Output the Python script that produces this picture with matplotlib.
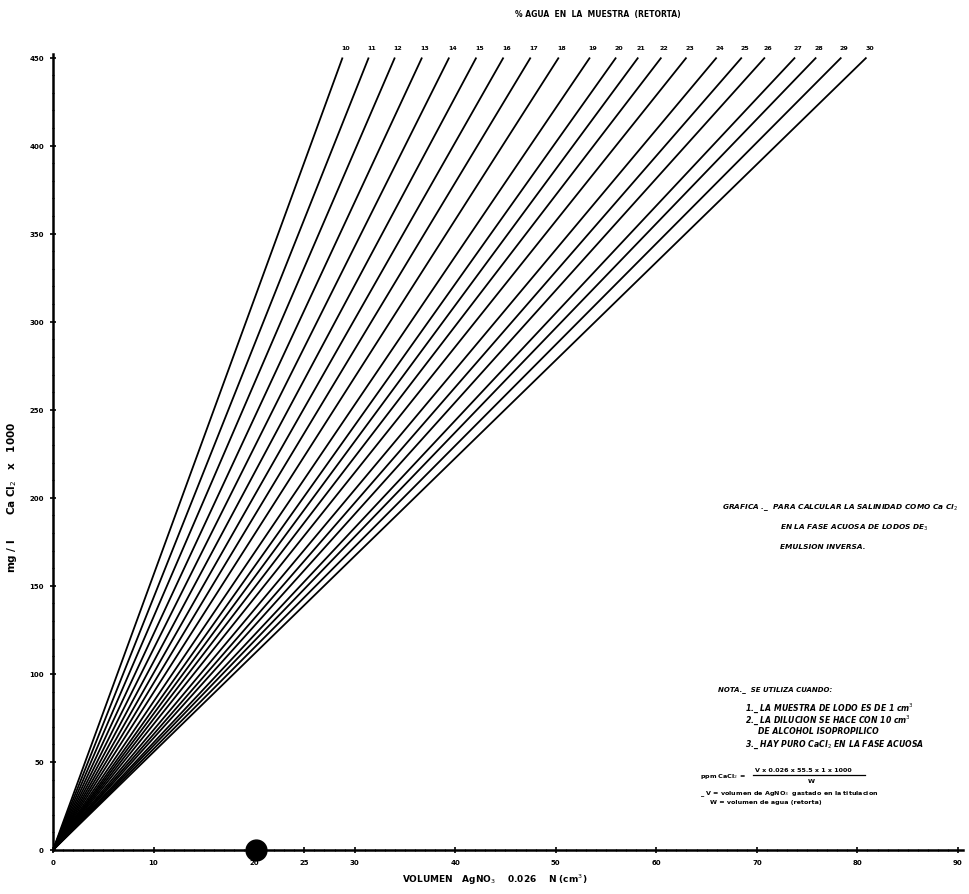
import numpy as np
import matplotlib.pyplot as plt
from matplotlib.ticker import MultipleLocator

# % agua en la muestra (retorta) -> una recta por cada valor
PCT_AGUA = [10, 11, 12, 13, 14, 15, 16, 17, 18, 19, 20,
            21, 22, 23, 24, 25, 26, 27, 28, 29, 30]
VOL_TOPE = [28.8, 31.4, 34.0, 36.7, 39.4, 42.1, 44.8, 47.5, 50.3, 53.4, 56.0,
            58.2, 60.5, 63.0, 66.0, 68.5, 70.8, 73.8, 75.9, 78.4, 80.9]
SAL_TOPE = 450

X_TICKS = [0, 10, 20, 25, 30, 40, 50, 60, 70, 80, 90]
Y_TICKS = [0, 50, 100, 150, 200, 250, 300, 350, 400, 450]
PUNTO = (20.2, 0)

fig = plt.figure(figsize=(9.7, 8.95), dpi=100)
ax = fig.add_axes([53 / 970, 1 - 851 / 895, 910 / 970, 796 / 895])

for pct, v in zip(PCT_AGUA, VOL_TOPE):
    ax.plot([0, v], [0, SAL_TOPE], color='black', lw=1.3, solid_capstyle='butt')
    ax.text(v + 0.3, SAL_TOPE + 5.5, str(pct), fontsize=4.5, fontweight='bold',
            ha='center', va='center')

ax.plot(*PUNTO, 'o', color='black', markersize=15, clip_on=False, zorder=5)

ax.set_xlim(0, 90.5)
ax.set_ylim(0, 452)
ax.set_xticks(X_TICKS)
ax.set_yticks(Y_TICKS)
ax.xaxis.set_minor_locator(MultipleLocator(1))
ax.yaxis.set_minor_locator(MultipleLocator(10))
ax.tick_params(which='major', direction='inout', length=5, width=1.2,
               labelsize=5, pad=4)
ax.tick_params(which='minor', direction='inout', length=2, width=0.8)
for lab in ax.get_xticklabels() + ax.get_yticklabels():
    lab.set_fontweight('bold')

ax.spines['top'].set_visible(False)
ax.spines['right'].set_visible(False)
ax.spines['left'].set_linewidth(1.8)
ax.spines['bottom'].set_linewidth(1.8)

# titulos
fig.text(598 / 970, 1 - 15 / 895, '% AGUA  EN  LA  MUESTRA  (RETORTA)',
         fontsize=5.5, fontweight='bold', ha='center', va='center')
fig.text(402 / 970, 1 - 880 / 895, r'VOLUMEN   AgNO$_3$    0.026    N (cm$^3$)',
         fontsize=6.5, fontweight='bold', ha='left', va='center')
fig.text(12 / 970, 1 - 497 / 895, r'mg / l       Ca Cl$_2$   x   1000',
         fontsize=7.5, fontweight='bold', rotation=90, ha='center', va='center')

# leyenda de la grafica
tit = dict(fontsize=5.3, fontweight='bold', style='italic', ha='left', va='center')
fig.text(722 / 970, 1 - 508 / 895, r'GRAFICA ._  PARA CALCULAR LA SALINIDAD COMO Ca Cl$_2$', **tit)
fig.text(780 / 970, 1 - 528 / 895, r'EN LA FASE ACUOSA DE LODOS DE$_3$', **tit)
fig.text(780 / 970, 1 - 547 / 895, 'EMULSION INVERSA.', **tit)

fig.text(718 / 970, 1 - 690 / 895, 'NOTA._  SE UTILIZA CUANDO:',
         fontsize=5, fontweight='bold', style='italic', ha='left', va='center')
nota = dict(fontsize=5.6, fontweight='bold', style='italic', ha='left', va='center')
fig.text(745 / 970, 1 - 708 / 895, r'1._ LA MUESTRA DE LODO ES DE 1 cm$^3$', **nota)
fig.text(745 / 970, 1 - 720 / 895, r'2._ LA DILUCION SE HACE CON 10 cm$^3$', **nota)
fig.text(758 / 970, 1 - 732 / 895, 'DE ALCOHOL ISOPROPILICO', **nota)
fig.text(745 / 970, 1 - 745 / 895, r'3._ HAY PURO CaCl$_2$ EN LA FASE ACUOSA', **nota)

form = dict(fontsize=4.6, fontweight='bold', ha='left', va='center')
fig.text(700 / 970, 1 - 777 / 895, r'ppm CaCl$_2$ =', **form)
fig.text(755 / 970, 1 - 771 / 895, 'V x 0.026 x 55.5 x 1 x 1000', **form)
fig.add_artist(plt.Line2D([753 / 970, 865 / 970], [1 - 776 / 895, 1 - 776 / 895],
                          color='black', lw=0.9, transform=fig.transFigure))
fig.text(808 / 970, 1 - 782 / 895, 'W', **form)
fig.text(700 / 970, 1 - 794 / 895, r'_ V = volumen de AgNO$_3$  gastado en la titulacion', **form)
fig.text(710 / 970, 1 - 803 / 895, 'W = volumen de agua (retorta)', **form)

fig.savefig('out.png', dpi=100, facecolor='white')
